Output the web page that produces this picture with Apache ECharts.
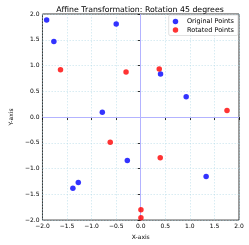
<!DOCTYPE html>
<html><head><meta charset="utf-8">
<script src="https://cdn.jsdelivr.net/npm/echarts@6/dist/echarts.min.js"></script>
<style>html,body{margin:0;padding:0;background:#fff}#c{width:249px;height:245px}</style>
</head><body><div id="c"></div>
<script>
const originalX = [-1.915, -1.768, -0.499, -0.782, 0.403, 0.925, -0.273, -1.271, -1.381, 1.331];
const originalY = [1.884, 1.465, 1.807, 0.093, 0.834, 0.396, -0.841, -1.272, -1.382, -1.156];
const rotatedX = [-1.633, -0.299, 0.377, 1.756, -0.621, 0.397, 0.004, 0.004];
const rotatedY = [0.918, 0.873, 0.931, 0.126, -0.487, -0.789, -1.800, -1.955];
const axisMin = -2, axisMax = 2, axisStep = 0.5;
const titleText = 'Affine Transformation: Rotation 45 degrees';

const font = 'DejaVu Sans';
const chart = echarts.init(document.getElementById('c'), null, {renderer: 'canvas'});
const fmt = v => (v < 0 ? '\u2212' : '') + Math.abs(v).toFixed(1);
function axis(name, extra) {
  return Object.assign({
    type: 'value', min: axisMin, max: axisMax, interval: axisStep,
    name: name, nameLocation: 'middle',
    nameTextStyle: {fontFamily: font, fontSize: 6, color: '#000'},
    axisLine: {show: false},
    axisTick: {show: true, length: 3, lineStyle: {color: '#000', width: 0.8}},
    axisLabel: {fontFamily: font, fontSize: 6, color: '#000', margin: 3, formatter: fmt},
    splitLine: {show: true, lineStyle: {color: 'rgba(173,216,230,0.8)', type: [1.5, 1.5], width: 0.6}}
  }, extra);
}
chart.setOption({
  animation: false,
  title: {text: titleText, left: 135, top: 1, textAlign: 'center',
    textStyle: {fontFamily: font, fontSize: 7.8, fontWeight: 'normal', color: '#000'}},
  grid: {left: 33, right: 10, top: 14, bottom: 24, show: true, borderColor: '#000', borderWidth: 0.8},
  xAxis: axis('X-axis', {nameGap: 10}),
  yAxis: axis('Y-axis', {nameGap: 20}),
  legend: {
    right: 11, top: 15, orient: 'vertical', itemWidth: 13, itemHeight: 5.5, itemGap: 1.5,
    padding: [3, 4, 2, 4], borderColor: '#ccc', borderWidth: 0.6, borderRadius: 1.5,
    backgroundColor: 'rgba(255,255,255,0.8)',
    textStyle: {fontFamily: font, fontSize: 6.5, color: '#000'},
    data: [{name: 'Original Points', icon: 'circle'}, {name: 'Rotated Points', icon: 'circle'}]
  },
  series: [
    {type: 'scatter', name: 'Original Points', symbolSize: 5.5, itemStyle: {color: '#0000ff'},
      data: originalX.map((x, i) => [x, originalY[i]]), z: 3,
      markLine: {silent: true, symbol: 'none', label: {show: false}, z: 1,
        lineStyle: {color: '#b3b3ff', type: 'solid', width: 1, opacity: 1},
        emphasis: {disabled: true},
        data: [{xAxis: 0}, {yAxis: 0}]}},
    {type: 'scatter', name: 'Rotated Points', symbolSize: 5.5, itemStyle: {color: '#ff0000'},
      data: rotatedX.map((x, i) => [x, rotatedY[i]]), z: 3}
  ]
});
</script></body></html>
